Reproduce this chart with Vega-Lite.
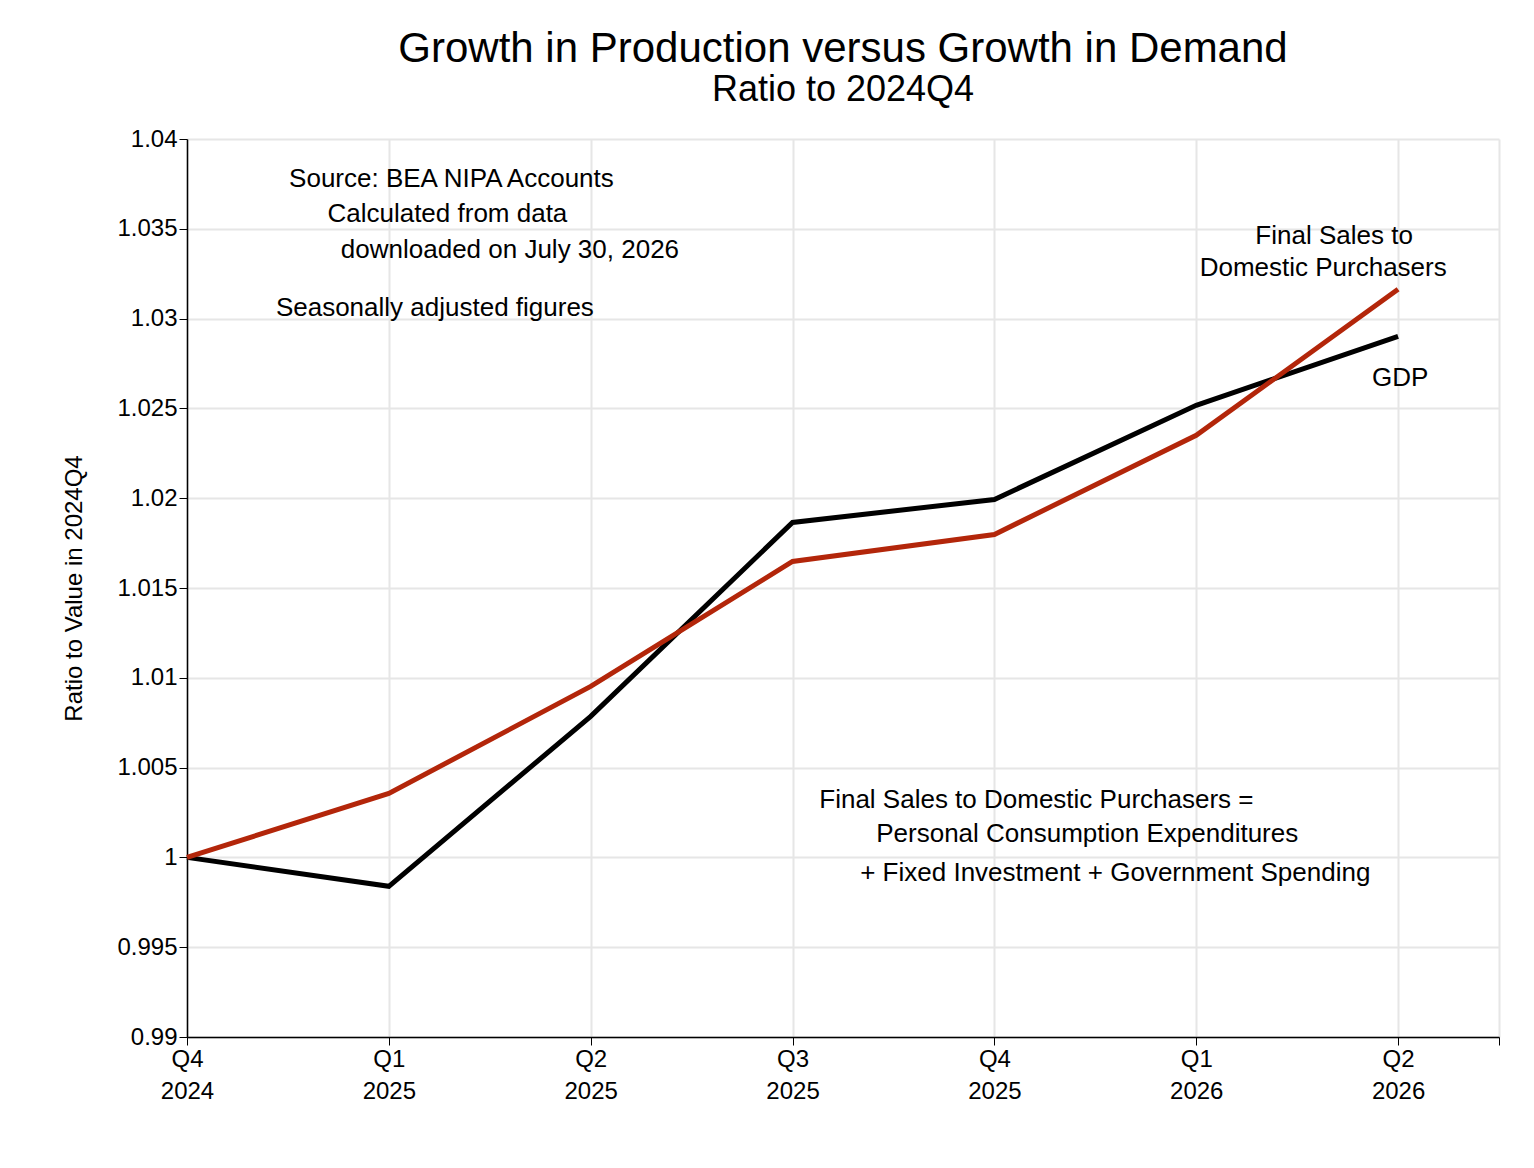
{
  "$schema": "https://vega.github.io/schema/vega-lite/v6.json",
  "width": 1312,
  "height": 898,
  "padding": {"left": 62, "top": 28, "right": 20, "bottom": 10},
  "background": "white",
  "config": {
    "font": "Liberation Sans",
    "view": {"stroke": null},
    "axis": {"gridColor": "#e6e6e6", "gridWidth": 2, "domainColor": "black", "domainWidth": 1.5, "tickColor": "black", "tickSize": 8, "labelColor": "black", "labelFontSize": 24, "titleFontSize": 24, "titleFontWeight": "normal", "titleColor": "black", "labelOverlap": false}
  },
  "title": {
    "text": "Growth in Production versus Growth in Demand",
    "subtitle": "Ratio to 2024Q4",
    "fontSize": 42,
    "fontWeight": "normal",
    "subtitleFontSize": 36,
    "subtitleColor": "black",
    "subtitlePadding": 2,
    "anchor": "middle",
    "offset": 18
  },
  "datasets": {
    "series": [
      {"q": 0, "series": "GDP", "ratio": 1.0},
      {"q": 1, "series": "GDP", "ratio": 0.99839},
      {"q": 2, "series": "GDP", "ratio": 1.00785},
      {"q": 3, "series": "GDP", "ratio": 1.01865},
      {"q": 4, "series": "GDP", "ratio": 1.01993},
      {"q": 5, "series": "GDP", "ratio": 1.02517},
      {"q": 6, "series": "GDP", "ratio": 1.02901},
      {"q": 0, "series": "Final Sales", "ratio": 1.0},
      {"q": 1, "series": "Final Sales", "ratio": 1.00356},
      {"q": 2, "series": "Final Sales", "ratio": 1.00952},
      {"q": 3, "series": "Final Sales", "ratio": 1.01648},
      {"q": 4, "series": "Final Sales", "ratio": 1.01798},
      {"q": 5, "series": "Final Sales", "ratio": 1.0235},
      {"q": 6, "series": "Final Sales", "ratio": 1.03163}
    ],
    "notes": [
      {"q": 1.31, "ratio": 1.03775, "label": "Source:  BEA NIPA Accounts"},
      {"q": 1.29, "ratio": 1.03580, "label": "Calculated from data"},
      {"q": 1.60, "ratio": 1.03380, "label": "downloaded on July 30, 2026"},
      {"q": 1.228, "ratio": 1.03057, "label": "Seasonally adjusted figures"},
      {"q": 5.683, "ratio": 1.03458, "label": "Final Sales to"},
      {"q": 5.629, "ratio": 1.0328, "label": "Domestic Purchasers"},
      {"q": 6.01, "ratio": 1.02667, "label": "GDP"},
      {"q": 4.208, "ratio": 1.00317, "label": "Final Sales to Domestic Purchasers ="},
      {"q": 4.46, "ratio": 1.00128, "label": "Personal Consumption Expenditures"},
      {"q": 4.599, "ratio": 0.99911, "label": "+ Fixed Investment + Government Spending"}
    ]
  },
  "encoding": {
    "x": {
      "field": "q", "type": "quantitative",
      "scale": {"domain": [0, 6.5], "nice": false, "zero": false},
      "axis": {
        "title": null,
        "values": [0, 1, 2, 3, 4, 5, 6, 6.5],
        "labelExpr": "datum.value == 6.5 ? '' : [['Q4','2024'],['Q1','2025'],['Q2','2025'],['Q3','2025'],['Q4','2025'],['Q1','2026'],['Q2','2026']][datum.value]",
        "labelLineHeight": 32,
        "labelFlush": false
      }
    },
    "y": {
      "field": "ratio", "type": "quantitative",
      "scale": {"domain": [0.99, 1.04], "nice": false, "zero": false},
      "axis": {"title": "Ratio to Value in 2024Q4", "values": [0.99, 0.995, 1, 1.005, 1.01, 1.015, 1.02, 1.025, 1.03, 1.035, 1.04], "format": ".3~f", "titlePadding": 30}
    }
  },
  "layer": [
    {
      "data": {"name": "series"},
      "mark": {"type": "line", "strokeWidth": 5},
      "encoding": {
        "detail": {"field": "series"},
        "color": {"field": "series", "type": "nominal", "scale": {"domain": ["GDP", "Final Sales"], "range": ["#000000", "#b3260a"]}, "legend": null}
      }
    },
    {
      "data": {"name": "notes"},
      "mark": {"type": "text", "fontSize": 26, "align": "center", "baseline": "middle", "color": "black"},
      "encoding": {"text": {"field": "label"}}
    }
  ]
}
